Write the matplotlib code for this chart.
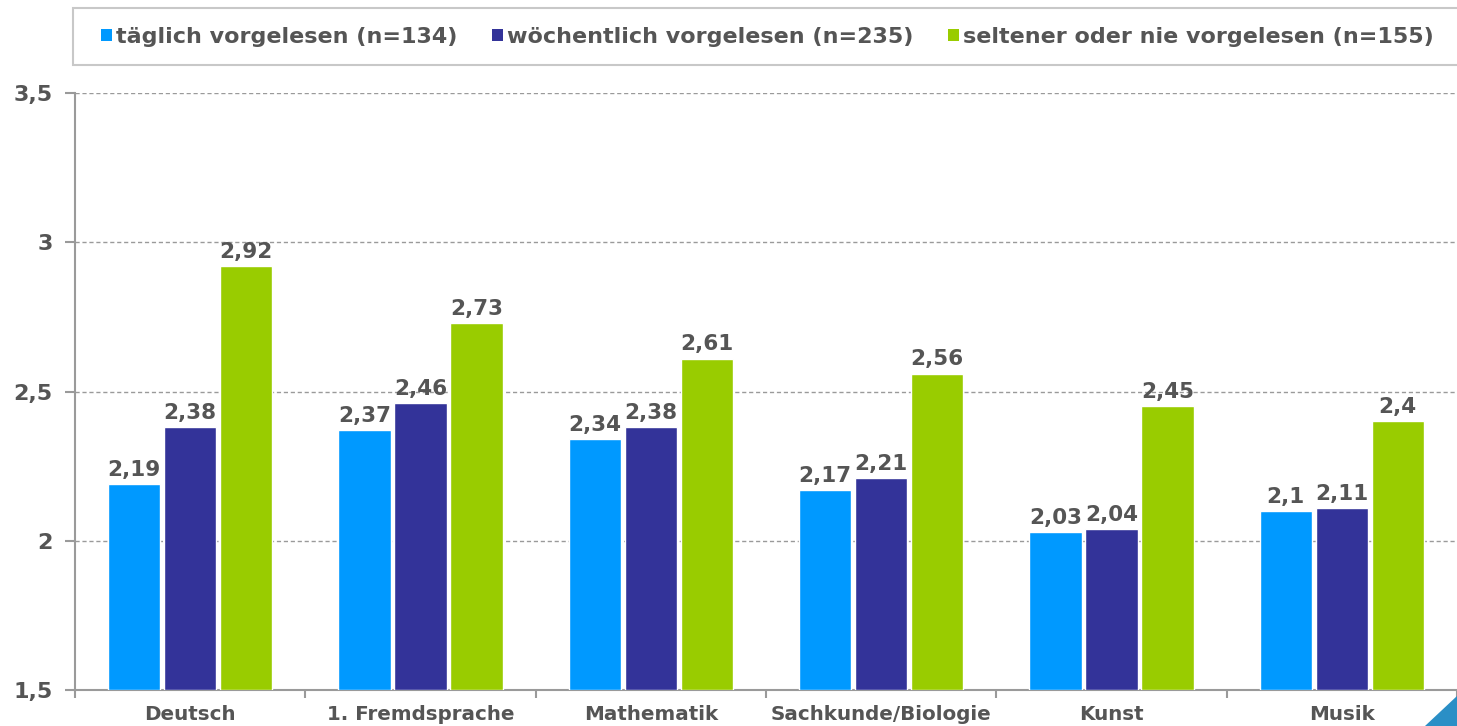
import matplotlib
matplotlib.use("Agg")
import matplotlib.pyplot as plt
from matplotlib.patches import Rectangle, Polygon
import numpy as np

categories = ["Deutsch", "1. Fremdsprache", "Mathematik", "Sachkunde/Biologie", "Kunst", "Musik"]
series_names = ["täglich vorgelesen (n=134)", "wöchentlich vorgelesen (n=235)", "seltener oder nie vorgelesen (n=155)"]
taeglich = [2.19, 2.37, 2.34, 2.17, 2.03, 2.1]
woechentlich = [2.38, 2.46, 2.38, 2.21, 2.04, 2.11]
selten = [2.92, 2.73, 2.61, 2.56, 2.45, 2.4]
yticks = [1.5, 2, 2.5, 3, 3.5]
ytick_labels = ["1,5", "2", "2,5", "3", "3,5"]

colors = ["#0099FF", "#333399", "#99CC00"]
txt = "#555555"
grid_c = "#9a9a9a"

W, H = 1457, 726
fig = plt.figure(figsize=(W / 100, H / 100), dpi=100)
ax = fig.add_axes([75 / W, 1 - 690 / H, 1 - 75 / W, (690 - 93) / H])

x = np.arange(len(categories))
slot = 0.243
bw = 0.228
series = [taeglich, woechentlich, selten]
for i, (vals, c) in enumerate(zip(series, colors)):
    xs = x + (i - 1) * slot
    ax.bar(xs, [v - 1.5 for v in vals], bottom=1.5, width=bw, color=c,
           edgecolor="white", linewidth=1.0, zorder=3)
    for xi, v in zip(xs, vals):
        ax.text(xi, v + 0.014, str(v).replace(".", ","), ha="center", va="bottom",
                fontsize=15.5, fontweight="bold", color=txt, zorder=4)

ax.set_ylim(1.5, 3.5)
ax.set_xlim(-0.5, 5.445)
ax.set_yticks(yticks)
ax.set_yticklabels(ytick_labels, fontsize=16, fontweight="bold", color=txt)
for y in yticks[1:]:
    ax.axhline(y, color=grid_c, linestyle=(0, (3, 2)), linewidth=1.0, zorder=1)

ax.set_xticks(np.arange(-0.5, 6, 1.0))
ax.set_xticklabels([])
ax.set_xticks(x, minor=True)
ax.set_xticklabels(categories, minor=True, fontsize=14.3, fontweight="bold", color=txt)
ax.tick_params(axis="x", which="major", length=6, color=grid_c, width=1.5)
ax.tick_params(axis="x", which="minor", length=0, pad=11)
ax.tick_params(axis="y", length=7, color=grid_c, width=1.5, pad=9)

for s in ["top", "right"]:
    ax.spines[s].set_visible(False)
for s in ["left", "bottom"]:
    ax.spines[s].set_color(grid_c)
    ax.spines[s].set_linewidth(1.5)

# legend frame
fig.patches.append(Rectangle((73 / W, 1 - 65 / H), 1.0, (65 - 8) / H, transform=fig.transFigure,
                             facecolor="white", edgecolor="#c8c8c8", linewidth=1.5, zorder=0))
handles = [Rectangle((0, 0), 1, 1, facecolor=c, edgecolor="none") for c in colors]
leg = fig.legend(handles, series_names, loc="center left", bbox_to_anchor=(92 / W, 1 - 37 / H),
                 ncol=3, frameon=False, handlelength=0.5, handleheight=0.5, handletextpad=0.2,
                 columnspacing=1.53, prop={"size": 16, "weight": "bold"}, borderaxespad=0)
for t in leg.get_texts():
    t.set_color(txt)

# corner decoration
fig.patches.append(Polygon([(1425 / W, 0), (1, 30 / H), (1, 0)], closed=True,
                           transform=fig.transFigure, facecolor="#2a8fc6", edgecolor="none"))

fig.savefig("out.png", dpi=100)
